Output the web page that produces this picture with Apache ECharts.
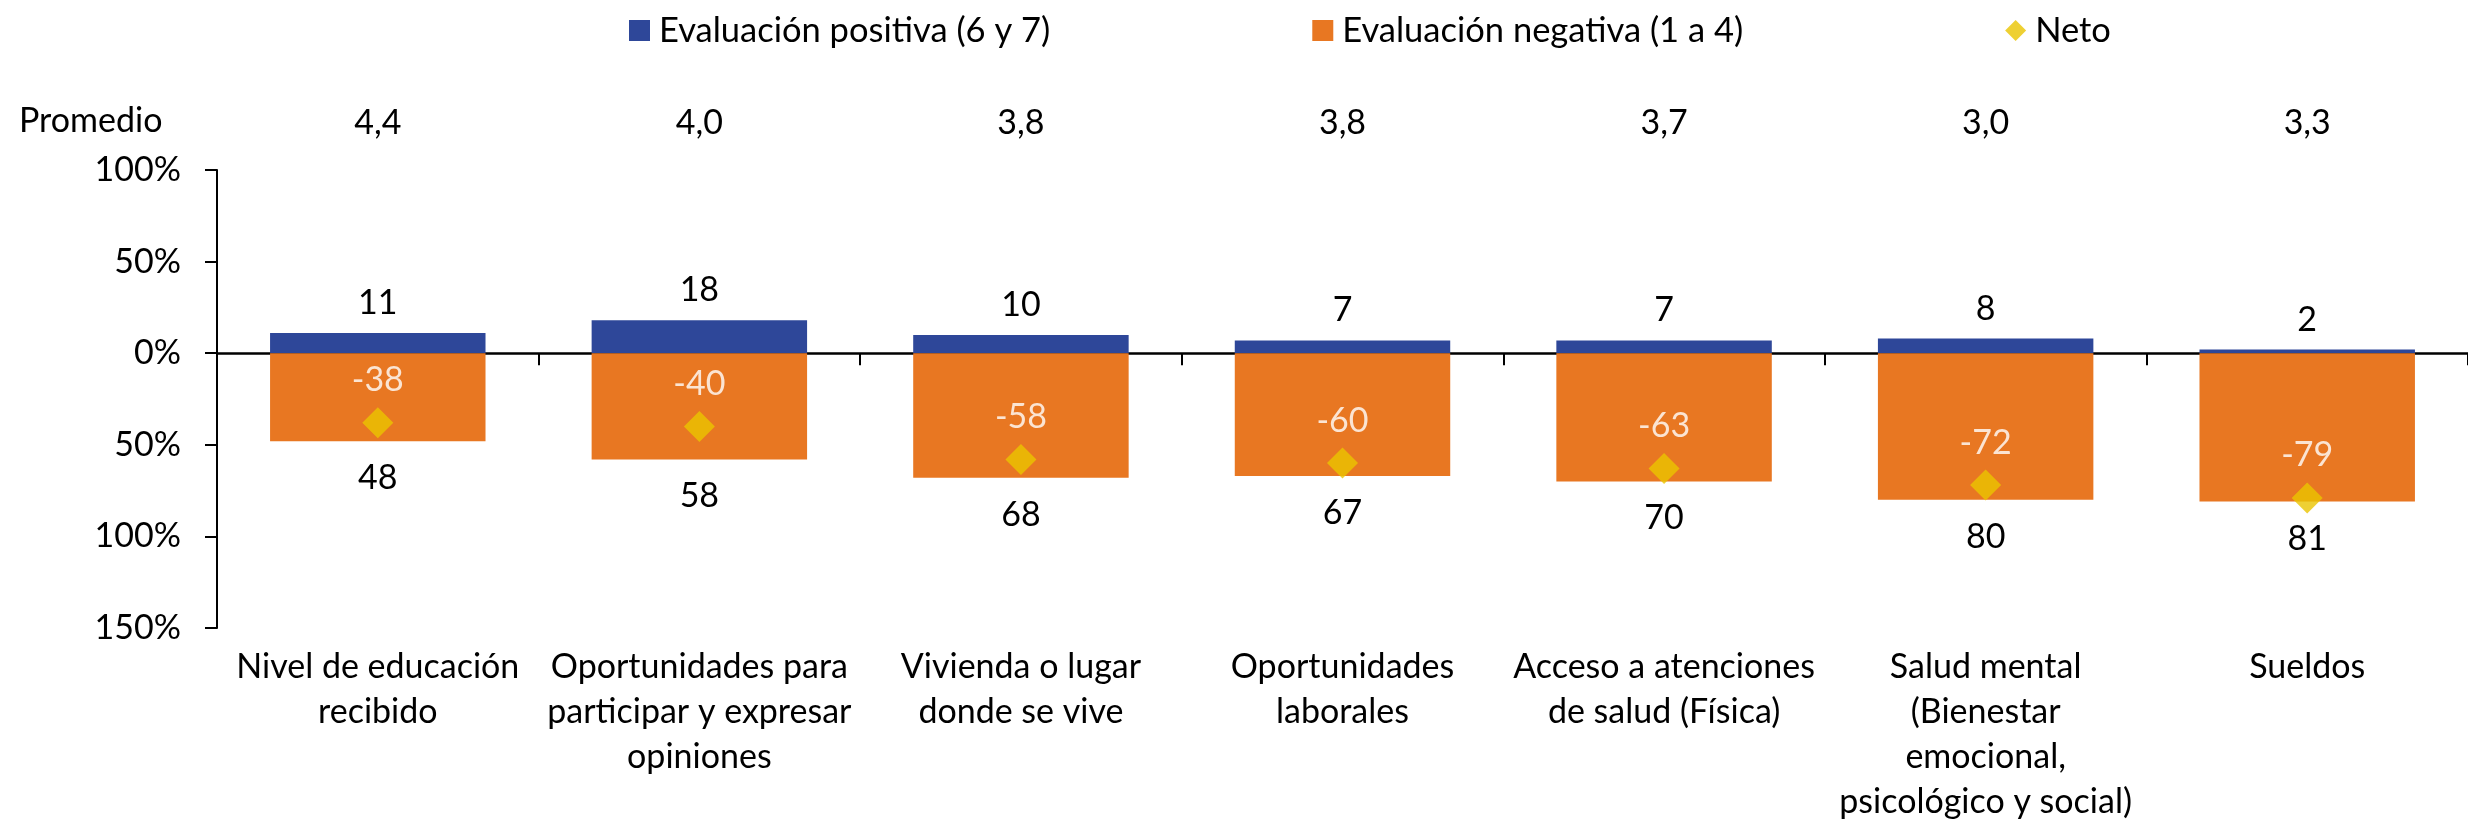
<!DOCTYPE html>
<html>
<head>
<meta charset="utf-8">
<script src="https://cdn.jsdelivr.net/npm/echarts@6/dist/echarts.min.js"></script>
<style>
  html, body { margin: 0; padding: 0; background: #fff; }
  #chart { width: 2468px; height: 825px; }
</style>
</head>
<body>
<div id="chart"></div>
<script>
//--------------------------------
// Data
//--------------------------------
const categories = [
    'Nivel de educación\nrecibido',
    'Oportunidades para\nparticipar y expresar\nopiniones',
    'Vivienda o lugar\ndonde se vive',
    'Oportunidades\nlaborales',
    'Acceso a atenciones\nde salud (Física)',
    'Salud mental\n(Bienestar\nemocional,\npsicológico y social)',
    'Sueldos'
];
const positiva = [11, 18, 10, 7, 7, 8, 2];
const negativa = [48, 58, 68, 67, 70, 80, 81];
const neto = [-38, -40, -58, -60, -63, -72, -79];
const promedio = ['4,4', '4,0', '3,8', '3,8', '3,7', '3,0', '3,3'];

//--------------------------------
// Chart
//--------------------------------
const FONT = 'Lato';
const FS = 34;
var myChart = echarts.init(document.getElementById('chart'));

let options = {
    animation: false,
    textStyle: { fontFamily: FONT },
    title: {
        text: 'Promedio',
        left: 19,
        top: 104,
        padding: 0,
        textStyle: { fontFamily: FONT, fontSize: FS, fontWeight: 'normal', color: '#000' }
    },
    legend: {
        left: 624,
        top: 8,
        itemGap: 262,
        itemWidth: 21,
        itemHeight: 21,
        textStyle: { fontFamily: FONT, fontSize: 34.5, color: '#000', padding: [0, 0, 0, 4] },
        data: [
            { name: 'Evaluación positiva (6 y 7)', icon: 'rect' },
            { name: 'Evaluación negativa (1 a 4)', icon: 'rect' },
            { name: 'Neto', icon: 'diamond' }
        ]
    },
    grid: {
        left: 217,
        top: 170,
        bottom: 195,
        width: 2260,
        containLabel: false
    },
    xAxis: [
        {
            // category labels at the bottom
            type: 'category',
            data: categories,
            position: 'bottom',
            axisLine: { show: false, onZero: false },
            axisTick: { show: false },
            axisLabel: {
                interval: 0,
                margin: 17,
                fontFamily: FONT,
                fontSize: FS,
                lineHeight: 45,
                color: '#000'
            }
        },
        {
            // zero line with ticks
            type: 'category',
            data: categories,
            position: 'bottom',
            axisLine: { show: true, onZero: true, lineStyle: { color: '#000', width: 2.5 } },
            axisTick: { show: true, length: 12, lineStyle: { color: '#000', width: 2 } },
            axisLabel: { show: false }
        },
        {
            // promedio row
            type: 'category',
            data: promedio,
            position: 'top',
            axisLine: { show: false },
            axisTick: { show: false },
            axisLabel: {
                interval: 0,
                margin: 30,
                fontFamily: FONT,
                fontSize: FS,
                color: '#000'
            }
        }
    ],
    yAxis: {
        type: 'value',
        min: -150,
        max: 100,
        interval: 50,
        axisLine: { show: true, lineStyle: { color: '#000', width: 2 } },
        axisTick: { show: true, length: 12, lineStyle: { color: '#000', width: 2 } },
        splitLine: { show: false },
        axisLabel: {
            margin: 36,
            fontFamily: FONT,
            fontSize: FS,
            color: '#000',
            formatter: (v) => Math.abs(v) + '%'
        }
    },
    series: [
        {
            name: 'Evaluación positiva (6 y 7)',
            type: 'bar',
            stack: 'total',
            barCategoryGap: '33%',
            itemStyle: { color: '#2E4799' },
            label: {
                show: true,
                position: 'top',
                distance: 13,
                fontFamily: FONT,
                fontSize: FS,
                color: '#000'
            },
            data: positiva
        },
        {
            name: 'Evaluación negativa (1 a 4)',
            type: 'bar',
            stack: 'total',
            barCategoryGap: '33%',
            itemStyle: { color: '#E87722' },
            label: {
                show: true,
                position: 'bottom',
                distance: 20,
                fontFamily: FONT,
                fontSize: FS,
                color: '#000',
                formatter: (p) => Math.abs(p.value)
            },
            data: negativa.map(v => -v)
        },
        {
            name: 'Neto',
            type: 'scatter',
            symbol: 'diamond',
            symbolSize: 31,
            z: 5,
            itemStyle: { color: '#EAC400' },
            label: {
                show: true,
                position: 'top',
                distance: 10,
                fontFamily: FONT,
                fontSize: FS,
                color: '#fff'
            },
            data: neto
        }
    ]
};
myChart.setOption(options);
</script>
</body>
</html>
